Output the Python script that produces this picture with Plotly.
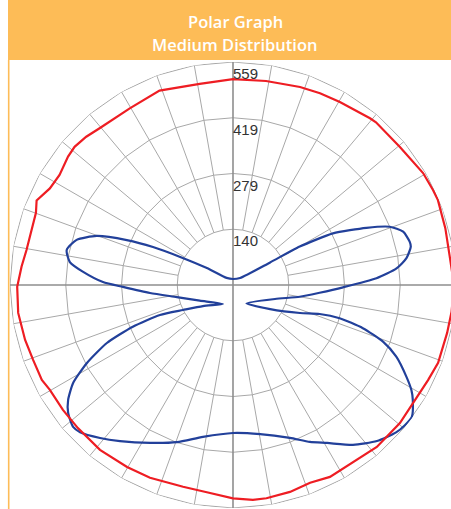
import plotly.graph_objects as go

# ---------------- data (candela vs. vertical angle, 0 deg = nadir) ----------------
RMAX = 559
ring_values = [139.75, 279.5, 419.25, 559]
ring_labels = ["140", "279", "419", "559"]
spoke_angles = list(range(0, 360, 10))

red_theta = [0, 5.3, 8.9, 15.4, 21.3, 26.8, 41.6, 50.4, 64, 69.2, 77.4, 83, 90, 97.4, 105,
             112.5, 115.4, 120.5, 129.6, 138.7, 140.6, 149.7, 155.6, 161.3, 170.8, 180,
             189.4, 200.7, 210.3, 220.4, 224.7, 228.9, 232.1, 237.6, 242.2, 246.7, 249.9,
             260.4, 265, 270.5, 277.4, 284.8, 290.6, 296.4, 299.8, 306.3, 312.7, 321.1,
             329.8, 336.7, 346.1, 353.1, 360]
red_r = [535, 541, 541, 538, 532, 539, 543, 543, 544, 550, 550, 552, 554, 548, 551,
         556, 555, 553, 543, 543, 541, 531, 528, 524, 518, 516,
         511, 521, 513, 516, 523, 527, 524, 515, 519, 536, 526,
         525, 532, 541, 543, 539, 535, 535, 529, 529, 529, 531,
         528, 526, 521, 524, 535]

blue_theta = [135, 180, 222, 237, 242, 244.6, 247.1, 250.2, 253.9, 258.1, 262, 265, 268.7,
              271, 275.5, 282.1, 295.2, 332.2, 305, 296.6, 292.3, 292.6, 294.7, 298.1,
              301.5, 304.9, 307.8, 311.6, 313.9, 319, 324.1, 332.3, 340.4, 348.8, 0,
              10.3, 20.4, 26.1, 30.8, 36.9, 42.7, 47.9, 50.8, 53.6, 57.4, 59.5, 62.1,
              66.3, 69.3, 71.6, 72.7, 71.5, 67.3, 57, 36.2, 71.6, 80, 84.9, 88.8, 92.7,
              95.8, 98.8, 102.2, 103.8, 107.4, 110.4, 113.2, 117.3, 119.9, 121.3, 135]
blue_r = [25, 15, 24, 78, 150, 222, 289, 363, 408, 426, 413, 377, 326,
          276, 209, 144, 92, 54, 92, 140, 198, 272, 348, 415,
          470, 504, 523, 536, 532, 508, 483, 447, 418, 388, 371,
          380, 409, 438, 461, 501, 532, 551, 556, 557, 535, 519, 492,
          447, 402, 343, 280, 229, 182, 111, 57, 111, 170, 218, 276, 360,
          412, 440, 456, 456, 447, 419, 364, 282, 193, 109, 25]

# ---------------- layout geometry ----------------
# figure is a little wider than the window; the right edge of the grid is cropped as in the source
W, H = 460, 509
ML, MR, MT, MB = 10, 4, 62, 1
PW, PH = W - ML - MR, H - MT - MB


def px(x):
    return (x - ML) / PW


def py(y):
    return (H - MB - y) / PH


GRID = "#A8A8A8"
AXIS = "#8E8E8E"
ORANGE = "#FDBC57"
LABEL_SHIFT = 15  # labels sit a little inside their ring (radial units)

fig = go.Figure()

# rings (polygonal)
for rv in ring_values:
    fig.add_trace(go.Scatterpolar(
        r=[rv] * (len(spoke_angles) + 1), theta=spoke_angles + [spoke_angles[0]],
        mode="lines", line=dict(color=GRID, width=1), hoverinfo="skip", showlegend=False))

# spokes from inner ring outward
sp_r, sp_t = [], []
for a in spoke_angles:
    if a % 90 == 0:
        continue
    sp_r += [ring_values[0], RMAX, None]
    sp_t += [a, a, None]
fig.add_trace(go.Scatterpolar(r=sp_r, theta=sp_t, mode="lines",
                              line=dict(color=GRID, width=1), hoverinfo="skip",
                              showlegend=False, connectgaps=False))

# main axes
for t1, t2 in [(0, 180), (90, 270)]:
    fig.add_trace(go.Scatterpolar(r=[RMAX, 0, RMAX], theta=[t1, t1, t2], mode="lines",
                                  line=dict(color=AXIS, width=1.6), hoverinfo="skip",
                                  showlegend=False))

# curves
fig.add_trace(go.Scatterpolar(r=blue_r, theta=blue_theta, mode="lines",
                              line=dict(color="#22409A", width=2.2, shape="spline", smoothing=0.6),
                              hoverinfo="skip", showlegend=False))
fig.add_trace(go.Scatterpolar(r=red_r, theta=red_theta, mode="lines",
                              line=dict(color="#EE1D23", width=2.2),
                              hoverinfo="skip", showlegend=False))

# ring labels
fig.add_trace(go.Scatterpolar(r=[v - LABEL_SHIFT for v in ring_values],
                              theta=[180] * len(ring_values), mode="text",
                              text=ring_labels, textposition="bottom right",
                              textfont=dict(family="Liberation Sans", size=15, color="#333333"),
                              hoverinfo="skip", showlegend=False))

fig.update_layout(
    width=W, height=H,
    margin=dict(l=ML, r=MR, t=MT, b=MB, pad=0),
    paper_bgcolor="white",
    plot_bgcolor="white",
    showlegend=False,
    polar=dict(
        domain=dict(x=[0, 1], y=[0, 1]),
        bgcolor="white",
        radialaxis=dict(range=[0, RMAX], visible=False),
        angularaxis=dict(rotation=-90, direction="counterclockwise", visible=False),
    ),
    shapes=[
        dict(type="rect", xref="paper", yref="paper", x0=px(8), x1=px(W + 2),
             y0=py(60), y1=py(-2), fillcolor=ORANGE, line=dict(width=0), layer="above"),
        dict(type="line", xref="paper", yref="paper", x0=px(8.7), x1=px(8.7),
             y0=py(60), y1=py(H + 2), line=dict(color=ORANGE, width=1.6), layer="above"),
    ],
    annotations=[
        dict(text="Polar Graph", xref="paper", yref="paper", x=px(235), y=py(22),
             xanchor="center", yanchor="middle", showarrow=False,
             font=dict(family="Open Sans", size=16.5, color="white", weight=600)),
        dict(text="Medium Distribution", xref="paper", yref="paper", x=px(235), y=py(44),
             xanchor="center", yanchor="middle", showarrow=False,
             font=dict(family="Open Sans", size=16.5, color="white", weight=600)),
    ],
)

fig.write_html(
    "out.html",
    config={"displayModeBar": False},
    post_script="document.body.style.margin='0';document.body.style.overflow='hidden';",
)
